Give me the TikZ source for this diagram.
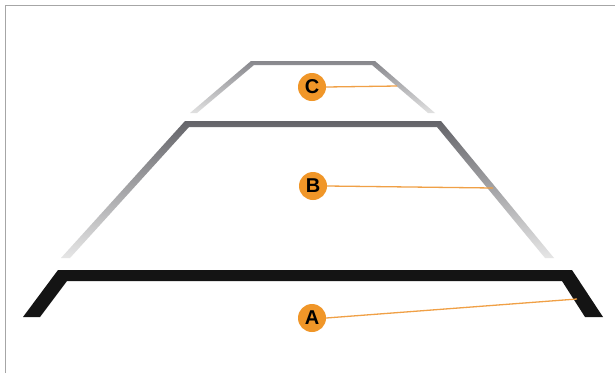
\documentclass[tikz,border=0pt]{standalone}
\usepackage{fontspec}
\setmainfont{Liberation Sans}
\definecolor{orng}{RGB}{240,150,40}
\definecolor{orline}{RGB}{240,160,70}
\begin{document}
\begin{tikzpicture}[x=1pt,y=-1pt,
  marker/.style={circle,fill=orng,minimum size=28pt,inner sep=0pt,font=\bfseries\fontsize{20}{20}\selectfont},
  leader/.style={draw=orline,line width=1.3pt}]
\useasboundingbox (0,0) rectangle (615,373);
\fill[white] (0,0) rectangle (615,373);
\draw[gray!70,line width=1pt] (5,373) -- (5,5) -- (615,5);
% line C
\shade[top color={rgb,255:red,135;green,135;blue,140}, bottom color={rgb,255:red,225;green,225;blue,225}]
  (190,113) -- (251,61) -- (375,61) -- (435,113) -- (428,113) -- (372,65) -- (254,65) -- (197,113) -- cycle;
% line B
\shade[top color={rgb,255:red,100;green,100;blue,105}, bottom color={rgb,255:red,230;green,230;blue,230}]
  (61,258) -- (185,121) -- (441,121) -- (554,258) -- (545,258) -- (437,127) -- (189,127) -- (70,258) -- cycle;
% line A
\fill[black!92]
  (23,317) -- (58,270) -- (572,270) -- (603,317) -- (585,317) -- (562,281) -- (67,281) -- (40,317) -- cycle;
\coordinate (cEnd) at (397,86);
\coordinate (bEnd) at (493,188);
\coordinate (aEnd) at (577,299);
\node[marker] (C) at (312,87) {C};
\node[marker] (B) at (313,186) {B};
\node[marker] (A) at (312,318) {A};
\draw[leader] (C.east) -- (cEnd);
\draw[leader] (B.east) -- (bEnd);
\draw[leader] (A.east) -- (aEnd);
\end{tikzpicture}
\end{document}
